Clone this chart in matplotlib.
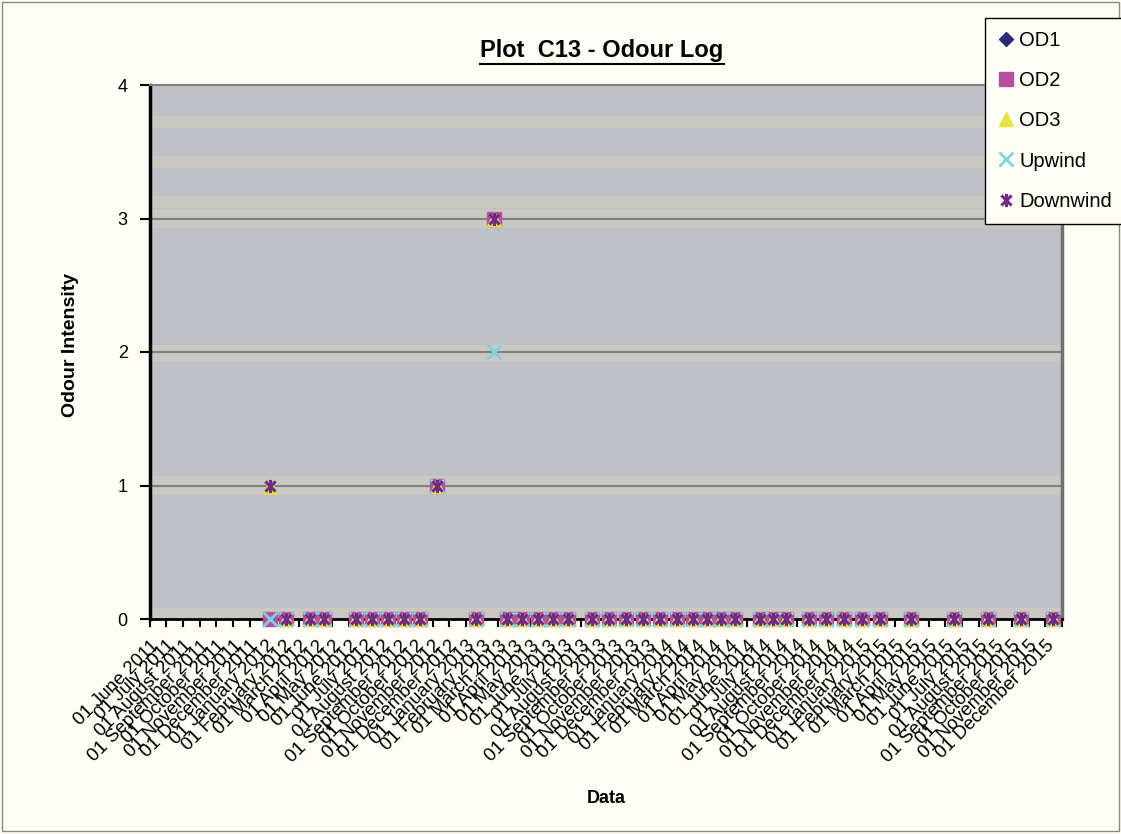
import datetime as dt

import matplotlib
matplotlib.use("Agg")
import matplotlib.pyplot as plt
import matplotlib.dates as mdates
from matplotlib.path import Path
from matplotlib.lines import Line2D
from matplotlib.patches import Rectangle

plt.rcParams["font.family"] = ["Liberation Sans", "DejaVu Sans"]

# visit dates and odour readings
visit_dates = [
    "2012-01-07", "2012-02-05", "2012-03-20", "2012-04-16", "2012-06-14",
    "2012-07-13", "2012-08-11", "2012-09-09", "2012-10-08", "2012-11-10",
    "2013-01-20", "2013-02-22", "2013-03-18", "2013-04-15", "2013-05-13",
    "2013-06-10", "2013-07-08", "2013-08-21", "2013-09-21", "2013-10-22",
    "2013-11-22", "2013-12-23", "2014-01-23", "2014-02-23", "2014-03-20",
    "2014-04-15", "2014-05-10", "2014-06-25", "2014-07-19", "2014-08-12",
    "2014-09-23", "2014-10-25", "2014-11-27", "2014-12-29", "2015-01-31",
    "2015-03-29", "2015-06-16", "2015-08-18", "2015-10-18", "2015-12-15",
]
od1 = [0, 0, 0, 0, 0, 0, 0, 0, 0, 1, 0, 3, 0, 0, 0, 0, 0, 0, 0, 0,
       0, 0, 0, 0, 0, 0, 0, 0, 0, 0, 0, 0, 0, 0, 0, 0, 0, 0, 0, 0]
od2 = [0, 0, 0, 0, 0, 0, 0, 0, 0, 1, 0, 3, 0, 0, 0, 0, 0, 0, 0, 0,
       0, 0, 0, 0, 0, 0, 0, 0, 0, 0, 0, 0, 0, 0, 0, 0, 0, 0, 0, 0]
od3 = [1, 0, 0, 0, 0, 0, 0, 0, 0, 1, 0, 3, 0, 0, 0, 0, 0, 0, 0, 0,
       0, 0, 0, 0, 0, 0, 0, 0, 0, 0, 0, 0, 0, 0, 0, 0, 0, 0, 0, 0]
upwind = [0, 0, 0, 0, 0, 0, 0, 0, 0, 1, 0, 2, 0, 0, 0, 0, 0, 0, 0, 0,
          0, 0, 0, 0, 0, 0, 0, 0, 0, 0, 0, 0, 0, 0, 0, 0, 0, 0, 0, 0]
downwind = [1, 0, 0, 0, 0, 0, 0, 0, 0, 1, 0, 3, 0, 0, 0, 0, 0, 0, 0, 0,
            0, 0, 0, 0, 0, 0, 0, 0, 0, 0, 0, 0, 0, 0, 0, 0, 0, 0, 0, 0]

axis_start = dt.date(2011, 6, 1)
axis_end = dt.date(2016, 1, 1)

dates = [dt.datetime.strptime(d, "%Y-%m-%d") for d in visit_dates]

# x plus vertical bar, like the spreadsheet asterisk marker
asterisk = Path(
    [(-1, -1), (1, 1), (-1, 1), (1, -1), (0, -1.3), (0, 1.3)],
    [Path.MOVETO, Path.LINETO, Path.MOVETO, Path.LINETO, Path.MOVETO, Path.LINETO],
)

series = [
    ("OD1", od1, dict(marker="D", ms=7.5, color="#2a2c78")),
    ("OD2", od2, dict(marker="s", ms=10, color="#b4519f")),
    ("OD3", od3, dict(marker="^", ms=10.5, color="#e6e43c")),
    ("Upwind", upwind, dict(marker="x", ms=9.5, color="#7fd3da", mew=2)),
    ("Downwind", downwind, dict(marker=asterisk, ms=9.5, color="#6e2a86", mew=2.2,
                                mfc="none")),
]

fig = plt.figure(figsize=(11.21, 8.34), dpi=100, facecolor="#fefef6")
ax = fig.add_axes([150 / 1121, 1 - 619 / 834, 912 / 1121, 534 / 834])
ax.set_facecolor("#c0c1c6")

# lighter bands across the plot area
for lo, hi in [(3.68, 3.77), (3.38, 3.47), (3.08, 3.17), (2.93, 3.07),
               (1.93, 2.05), (0.93, 1.07), (0.01, 0.08)]:
    ax.axhspan(lo, hi, color="#cac8c2", lw=0, zorder=0)

for y in [1, 2, 3]:
    ax.axhline(y, color="#7f7f7f", lw=1.5, zorder=1)

handles = []
for i, (name, vals, style) in enumerate(series):
    kw = dict(style)
    color = kw.pop("color")
    kw.setdefault("mfc", color)
    kw.setdefault("mew", 1)
    ax.plot(dates, vals, linestyle="none", mec=color, clip_on=False,
            zorder=3 + i, **kw)
    handles.append(Line2D([], [], linestyle="none", mec=color, label=name, **kw))

ax.set_xlim(axis_start, axis_end)
ax.set_ylim(0, 4)
ax.set_yticks([0, 1, 2, 3, 4])

month_ticks = mdates.MonthLocator(bymonthday=1)
ax.xaxis.set_major_locator(month_ticks)
ax.xaxis.set_major_formatter(mdates.DateFormatter("%d %B %Y"))
ax.tick_params(axis="x", direction="out", length=6, width=1.5, labelsize=13.5,
               pad=7)
ax.tick_params(axis="y", direction="out", length=7, width=1.5, labelsize=13,
               pad=9)
for lab in ax.get_xticklabels():
    lab.set_rotation(45)
    lab.set_ha("right")
    lab.set_va("top")
    lab.set_rotation_mode("anchor")
# the first of January 2016 closes the axis without a label
labels = ax.get_xticklabels()
if labels and labels[-1].get_text().startswith("01 January 2016"):
    labels[-1].set_visible(False)

ax.spines["left"].set_linewidth(2.5)
ax.spines["left"].set_color("black")
ax.spines["bottom"].set_linewidth(2)
ax.spines["bottom"].set_color("black")
ax.spines["top"].set_color("#808080")
ax.spines["top"].set_linewidth(1.5)
ax.spines["right"].set_color("#707070")
ax.spines["right"].set_linewidth(2.5)

ax.set_xlabel("Data", fontsize=13, fontweight="bold", labelpad=0)
ax.xaxis.set_label_coords(0.5, -(790 - 619) / 534)
ax.set_ylabel("Odour Intensity", fontsize=14, fontweight="bold")
ax.yaxis.set_label_coords(-(150 - 79) / 912, 0.5 + 7 / 534)

title = fig.text(602 / 1121, 1 - 51 / 834, "Plot  C13 - Odour Log",
                 fontsize=17, fontweight="bold", ha="center", va="center")

leg = fig.legend(handles=handles, loc="upper left",
                 bbox_to_anchor=(985 / 1121, 1 - 18 / 834), fontsize=14.5,
                 frameon=True, fancybox=False, edgecolor="black",
                 facecolor="#fefef6", framealpha=1, handlelength=0.8,
                 handletextpad=0.25, labelspacing=1.05, borderpad=0.65,
                 borderaxespad=0)
leg.get_frame().set_linewidth(1)

# underline under the title
fig.canvas.draw()
bb = title.get_window_extent().transformed(fig.transFigure.inverted())
fig.add_artist(Line2D([bb.x0, bb.x1], [bb.y0 - 0.002, bb.y0 - 0.002],
                      transform=fig.transFigure, color="black", lw=1.5))

fig.add_artist(Rectangle((0.002, 0.004), 0.996, 0.994, transform=fig.transFigure,
                         fill=False, ec="#8a8a8a", lw=1))

fig.savefig("out.png", dpi=100, facecolor=fig.get_facecolor())
